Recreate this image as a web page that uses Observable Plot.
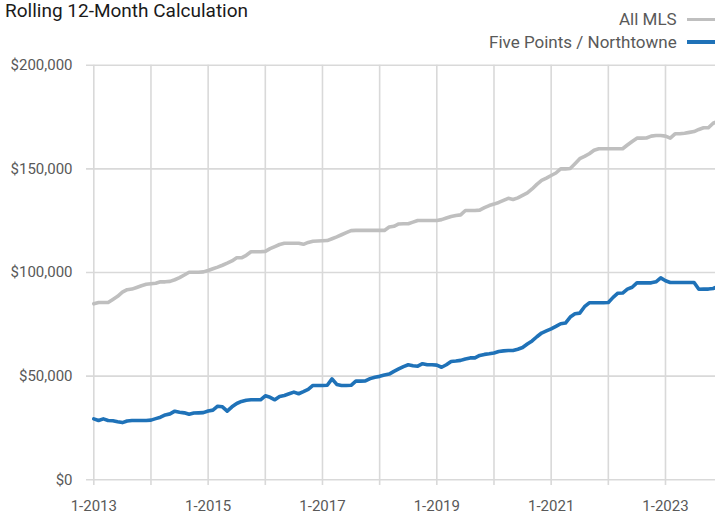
<!DOCTYPE html>
<html>
<head>
<meta charset="utf-8">
<script src="https://cdn.jsdelivr.net/npm/d3@7"></script>
<script src="https://cdn.jsdelivr.net/npm/@observablehq/plot@0.6"></script>
<style>
  html, body { margin: 0; padding: 0; background: #fff; width: 715px; height: 514px; overflow: hidden; }
  #wrap { position: relative; width: 715px; height: 514px; font-family: Roboto, sans-serif; }
  #chart { position: absolute; left: 0; top: 0; }
  .title { position: absolute; left: 5px; top: 1.3px; font-size: 19px; line-height: 19px; color: #1a1a1a; white-space: nowrap; }
  .lg { position: absolute; right: 38.3px; font-size: 17px; line-height: 17px; color: #595959; white-space: nowrap; }
  .sw { position: absolute; left: 687px; width: 28px; height: 3.5px; }
</style>
</head>
<body>
<div id="wrap">
  <div id="chart"></div>
  <div class="title">Rolling 12-Month Calculation</div>
  <div class="lg" id="lg1" style="top:10.7px"></div>
  <div class="sw" id="sw1" style="top:17.5px"></div>
  <div class="lg" id="lg2" style="top:33.7px"></div>
  <div class="sw" id="sw2" style="top:40px"></div>
</div>
<script>
// Series names and colours
const seriesNames = ["All MLS", "Five Points / Northtowne"];
const seriesColors = ["#bfbfbf", "#1f72b8"];

// Monthly values, Jan 2013 .. Dec 2023 (rolling 12-month median price)
const allMLS = [
  84900, 85500, 85500, 85500, 87000, 88500, 90500, 91700, 92000, 92800, 93600, 94300,
  94600, 94800, 95500, 95500, 95700, 96500, 97500, 98800, 100100, 100100, 100100, 100300,
  101000, 101800, 102600, 103500, 104500, 105600, 107100, 107100, 108300, 110000, 110000, 110000,
  110200, 111500, 112500, 113500, 114100, 114100, 114100, 114100, 113600, 114500, 115100, 115200,
  115300, 115400, 116300, 117200, 118200, 119200, 120200, 120300, 120300, 120300, 120300, 120300,
  120300, 120300, 121900, 122300, 123400, 123500, 123500, 124300, 125100, 125100, 125100, 125100,
  125100, 125500, 126300, 127000, 127500, 127800, 129900, 129900, 129900, 130100, 131300, 132300,
  133000, 133800, 134800, 135800, 135200, 136000, 137200, 138400, 140300, 142500, 144400, 145500,
  146800, 148000, 150000, 150000, 150200, 152500, 154900, 156000, 157300, 159000, 159700, 159700,
  159700, 159700, 159700, 159700, 161500, 163200, 164800, 164800, 164900, 165800, 166100, 166100,
  165800, 164800, 166900, 166900, 167200, 167600, 168000, 169000, 169800, 169800, 172000, 173000
];
const fivePoints = [
  29400, 28600, 29400, 28600, 28500, 28000, 27600, 28400, 28600, 28600, 28600, 28600,
  28800, 29500, 30200, 31300, 31800, 33100, 32600, 32300, 31600, 32200, 32300, 32400,
  33200, 33600, 35500, 35200, 33100, 35200, 36800, 37800, 38400, 38600, 38600, 38600,
  40500, 39800, 38600, 40200, 40700, 41500, 42300, 41500, 42500, 43600, 45500, 45500,
  45500, 45600, 48700, 46000, 45500, 45500, 45600, 47600, 47600, 47700, 48800, 49500,
  49900, 50500, 51000, 52300, 53500, 54600, 55500, 55000, 54800, 56000, 55500, 55500,
  55300, 54300, 55500, 57100, 57300, 57600, 58300, 58800, 58800, 60000, 60500, 60800,
  61200, 61900, 62200, 62400, 62400, 63000, 63800, 65500, 67000, 69000, 70800, 71800,
  72800, 74000, 75300, 75600, 78500, 80100, 80400, 83500, 85400, 85400, 85400, 85400,
  85500, 88000, 90000, 90100, 92000, 92900, 95000, 95000, 95000, 95000, 95500, 97400,
  96000, 95200, 95200, 95200, 95200, 95200, 95200, 91900, 92000, 92000, 92300, 93200
];
const startYear = 2013;
const years = [2013, 2014, 2015, 2016, 2017, 2018, 2019, 2020, 2021, 2022, 2023];
const labelYears = [2013, 2015, 2017, 2019, 2021, 2023];
const yTicks = [0, 50000, 100000, 150000, 200000];

const monthIndex = (year) => (year - startYear) * 12;
const rows = [];
allMLS.forEach((v, i) => rows.push({series: seriesNames[0], m: i, v}));
fivePoints.forEach((v, i) => rows.push({series: seriesNames[1], m: i, v}));

const fmt = d3.format(",");
const chart = Plot.plot({
  width: 715,
  height: 514,
  marginTop: 64.7,
  marginBottom: 29,
  marginLeft: 86,
  marginRight: 0,
  style: {fontFamily: "Roboto, sans-serif", fontSize: "15px", color: "#595959", background: "transparent", overflow: "visible"},
  x: {domain: [0, allMLS.length - 1], range: [93.3, 717.4]},
  y: {domain: [0, 200000], range: [479.3, 64.7]},
  color: {domain: seriesNames, range: seriesColors},
  marks: [
    Plot.gridY(yTicks, {stroke: "#d9d9d9", strokeOpacity: 1, strokeWidth: 1.6}),
    Plot.gridX(years.map(monthIndex), {stroke: "#d9d9d9", strokeOpacity: 1, strokeWidth: 1.6}),
    Plot.axisY(yTicks, {tickSize: 0, tickPadding: 14, label: null, fill: "#595959", tickFormat: d => "$" + fmt(d)}),
    Plot.axisX(labelYears.map(monthIndex), {tickSize: 0, tickPadding: 15, label: null, fill: "#595959", tickFormat: m => "1-" + (startYear + m / 12)}),
    Plot.line(rows, {x: "m", y: "v", z: "series", stroke: "series", strokeWidth: 3.6, strokeLinejoin: "round"})
  ]
});
document.getElementById("chart").appendChild(chart);

document.getElementById("lg1").textContent = seriesNames[0];
document.getElementById("lg2").textContent = seriesNames[1];
document.getElementById("sw1").style.background = seriesColors[0];
document.getElementById("sw2").style.background = seriesColors[1];
</script>
</body>
</html>
